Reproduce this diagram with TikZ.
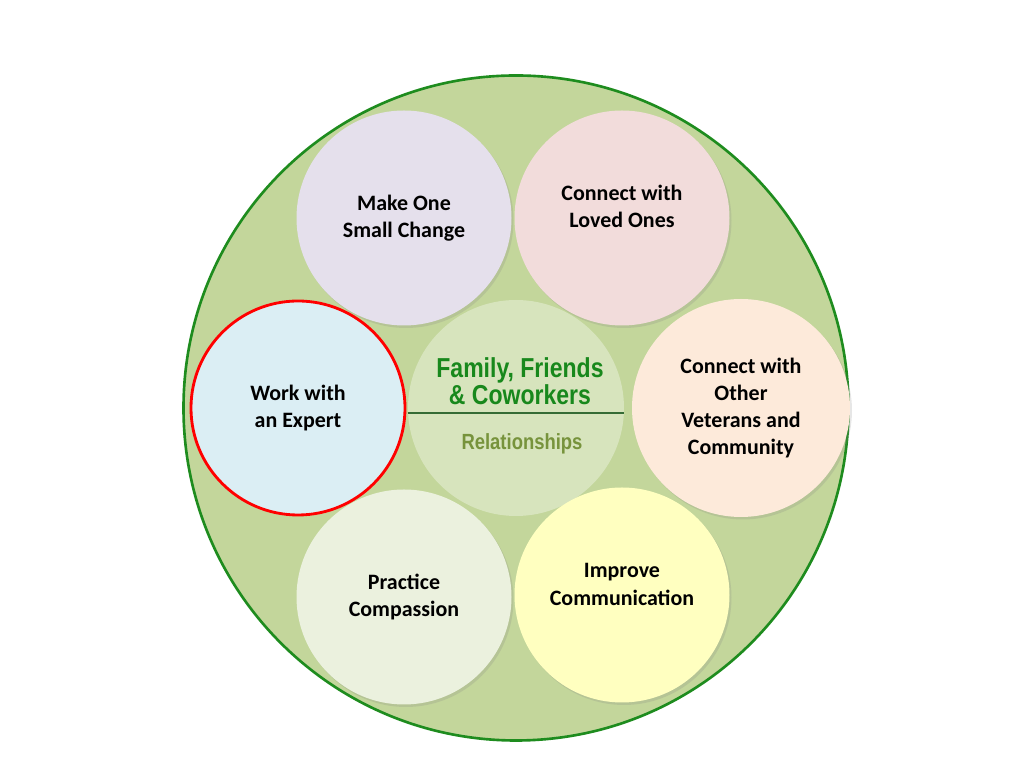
\documentclass[tikz,border=0pt]{standalone}
\usepackage{fontspec}
\setmainfont{Carlito}
\newfontfamily\narrowfont[FakeStretch=0.84]{Liberation Sans}
\usetikzlibrary{positioning,shadows}
\definecolor{outerfill}{HTML}{C3D69B}
\definecolor{outerline}{HTML}{1E8C1E}
\definecolor{lavender}{HTML}{E5E0EC}
\definecolor{rosy}{HTML}{F2DCDB}
\definecolor{skyfill}{HTML}{DBEEF4}
\definecolor{hubfill}{HTML}{D7E4BD}
\definecolor{peach}{HTML}{FDEADA}
\definecolor{palegreen}{HTML}{EBF1DE}
\definecolor{paleyellow}{HTML}{FFFFC0}
\definecolor{titlegreen}{HTML}{18881C}
\definecolor{olivetext}{HTML}{77933C}

\begin{document}
\begin{tikzpicture}[
every node/.style={circle,minimum size=4.3cm,align=center,font=\fontsize{12.5}{15.5}\selectfont\bfseries},
petal/.style={drop shadow={opacity=0.2,shadow xshift=0.04cm,shadow yshift=-0.05cm}}]
\useasboundingbox (0,0) rectangle (20.48,15.36);
\node (outer) [draw=outerline,line width=1.5pt,fill=outerfill,minimum size=13.3cm] at (10.32,7.2) {};
\node (hub) [fill=hubfill,minimum size=4.32cm] at (10.32,7.2) {};
\node (change) [petal,fill=lavender] at (8.08,11.0) {Make One\\Small Change};
\node (loved) [petal,fill=rosy] at (12.44,11.0) {Connect with\\Loved Ones\\[-2pt]};
\node (expert) [draw=red,line width=1.6pt,fill=skyfill,minimum size=4.28cm] at (5.96,7.2) {Work with\\an Expert};
\node (veterans) [petal,fill=peach,minimum size=4.36cm] at (14.82,7.2) {Connect with\\Other\\Veterans and\\Community};
\node (compassion) [petal,fill=palegreen] at (8.08,3.42) {Practice\\Compassion};
\node (communication) [petal,fill=paleyellow] at (12.44,3.46) {Improve\\Communication\\[-3.5pt]};
\draw[draw=black!30!outerline!70!gray,line width=1.2pt] (hub.west)++(0,-0.1) -- ([yshift=-0.1cm]hub.east);
\node (title) [minimum size=0pt,inner sep=0pt,text=titlegreen,font=\narrowfont\fontsize{15.6}{15.5}\selectfont\bfseries] at (10.4,7.74) {Family, Friends\\\& Coworkers};
\node (sub) [minimum size=0pt,inner sep=0pt,text=olivetext,font=\narrowfont\fontsize{12.5}{13}\selectfont\bfseries] at (10.44,6.48) {Relationships};
\end{tikzpicture}
\end{document}
